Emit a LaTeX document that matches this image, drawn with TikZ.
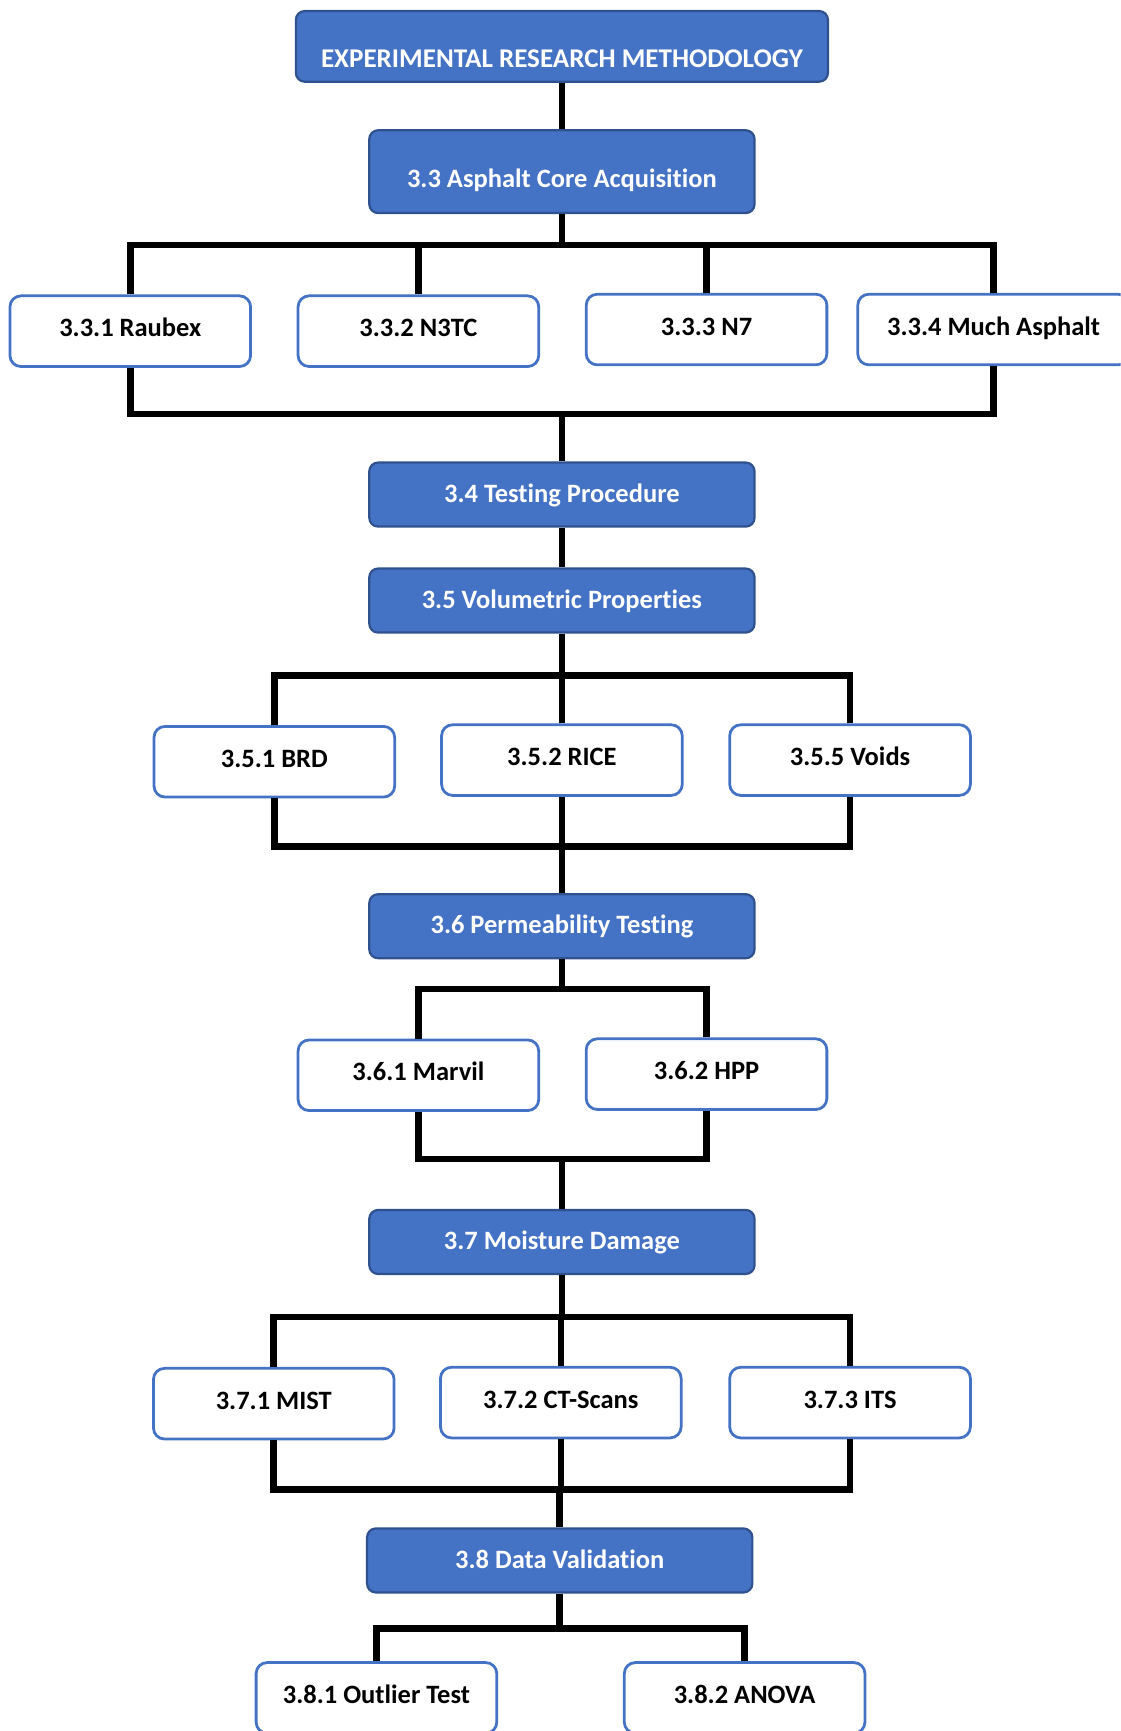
\documentclass[tikz,border=0pt]{standalone}
\usepackage{fontspec}
\setmainfont{Carlito}[Ligatures=NoCommon]

\definecolor{headblue}{HTML}{4472C4}
\definecolor{headedge}{HTML}{2F528F}

\tikzset{
	boxfont/.style={font=\fontsize{24}{28}\selectfont\bfseries},
	headbox/.style={boxfont, draw=headedge, fill=headblue, text=white, line width=2pt,
		rounded corners=8pt, inner sep=0pt, minimum width=349pt, minimum height=58pt,
		text height=16pt, text depth=2pt},
	subbox/.style={boxfont, draw=headblue, fill=white, text=black, line width=2.5pt,
		rounded corners=10pt, inner sep=0pt, minimum width=218pt, minimum height=64pt,
		text height=16pt, text depth=6pt},
	link/.style={draw=black, line width=6pt}
}

\begin{document}
\begin{tikzpicture}[x=1pt, y=-1pt]

		\useasboundingbox (0,0) rectangle (1015,1568);
		\clip (0,0) rectangle (1015,1568);

		% main column
		\node[headbox, minimum width=482pt, minimum height=64pt, text height=51pt, text depth=13pt,
			font=\fontsize{24.5}{28}\selectfont\bfseries] (method) at (509,42) {EXPERIMENTAL RESEARCH METHODOLOGY};
		\node[headbox, minimum height=75pt, text height=52pt, text depth=23pt] (acquisition) at (509,155.5) {3.3 Asphalt Core Acquisition};
		\node[headbox] (procedure) at (509,448) {3.4 Testing Procedure};
		\node[headbox] (volumetric) at (509,544) {3.5 Volumetric Properties};
		\node[headbox] (permeability) at (509,839) {3.6 Permeability Testing};
		\node[headbox] (moisture) at (509,1125) {3.7 Moisture Damage};
		\node[headbox] (validation) at (507,1413.5) {3.8 Data Validation};

		% sub-boxes
		\node[subbox] (raubex) at (118,300) {3.3.1 Raubex};
		\node[subbox] (nthreetc) at (379,300) {3.3.2 N3TC};
		\node[subbox] (nseven) at (640,298.5) {3.3.3 N7};
		\node[subbox, minimum width=246pt] (much) at (900,298.5) {3.3.4 Much Asphalt};

		\node[subbox] (brd) at (248.5,690) {3.5.1 BRD};
		\node[subbox] (rice) at (509,688.5) {3.5.2 RICE};
		\node[subbox] (voids) at (770,688.5) {3.5.5 Voids};

		\node[subbox] (marvil) at (379,974) {3.6.1 Marvil};
		\node[subbox] (hpp) at (640,973) {3.6.2 HPP};

		\node[subbox] (mist) at (248,1271.5) {3.7.1 MIST};
		\node[subbox] (ctscan) at (508,1270.5) {3.7.2 CT-Scans};
		\node[subbox] (its) at (770,1270.5) {3.7.3 ITS};

		\node[subbox] (outlier) at (341,1538) {3.8.1 Outlier Test};
		\node[subbox] (anova) at (674.5,1538) {3.8.2 ANOVA};

		% bus lines
		\coordinate (busA) at (509,222);
		\coordinate (busB) at (509,375);
		\coordinate (busC) at (509,612);
		\coordinate (busD) at (509,767);
		\coordinate (busE) at (509,896);
		\coordinate (busF) at (509,1050);
		\coordinate (busG) at (509,1193);
		\coordinate (busH) at (507,1349);
		\coordinate (busI) at (507,1475);

		\draw[link] (method) -- (acquisition);

		% draw core sites
		\draw[link] (acquisition) -- (busA);
		\foreach \site in {raubex, nthreetc, nseven, much}
		{
			\draw[link] (\site.north) |- (busA);
		}
		\draw[link] (raubex.south) |- (busB) -| (much.south);
		\draw[link] (busB) -- (procedure);
		\draw[link] (procedure) -- (volumetric);

		% draw volumetric tests
		\draw[link] (volumetric) -- (busC);
		\foreach \test in {brd, rice, voids}
		{
			\draw[link] (\test.north) |- (busC);
			\draw[link] (\test.south) |- (busD);
		}
		\draw[link] (busD) -- (permeability);

		% draw permeability tests
		\draw[link] (permeability) -- (busE);
		\foreach \test in {marvil, hpp}
		{
			\draw[link] (\test.north) |- (busE);
			\draw[link] (\test.south) |- (busF);
		}
		\draw[link] (busF) -- (moisture);

		% draw moisture tests
		\draw[link] (moisture) -- (busG);
		\foreach \test in {mist, ctscan, its}
		{
			\draw[link] (\test.north) |- (busG);
			\draw[link] (\test.south) |- (busH);
		}
		\draw[link] (busH) -- (validation);

		% draw validation
		\draw[link] (validation) -- (busI);
		\foreach \test in {outlier, anova}
		{
			\draw[link] (\test.north) |- (busI);
		}

	\end{tikzpicture}
\end{document}
